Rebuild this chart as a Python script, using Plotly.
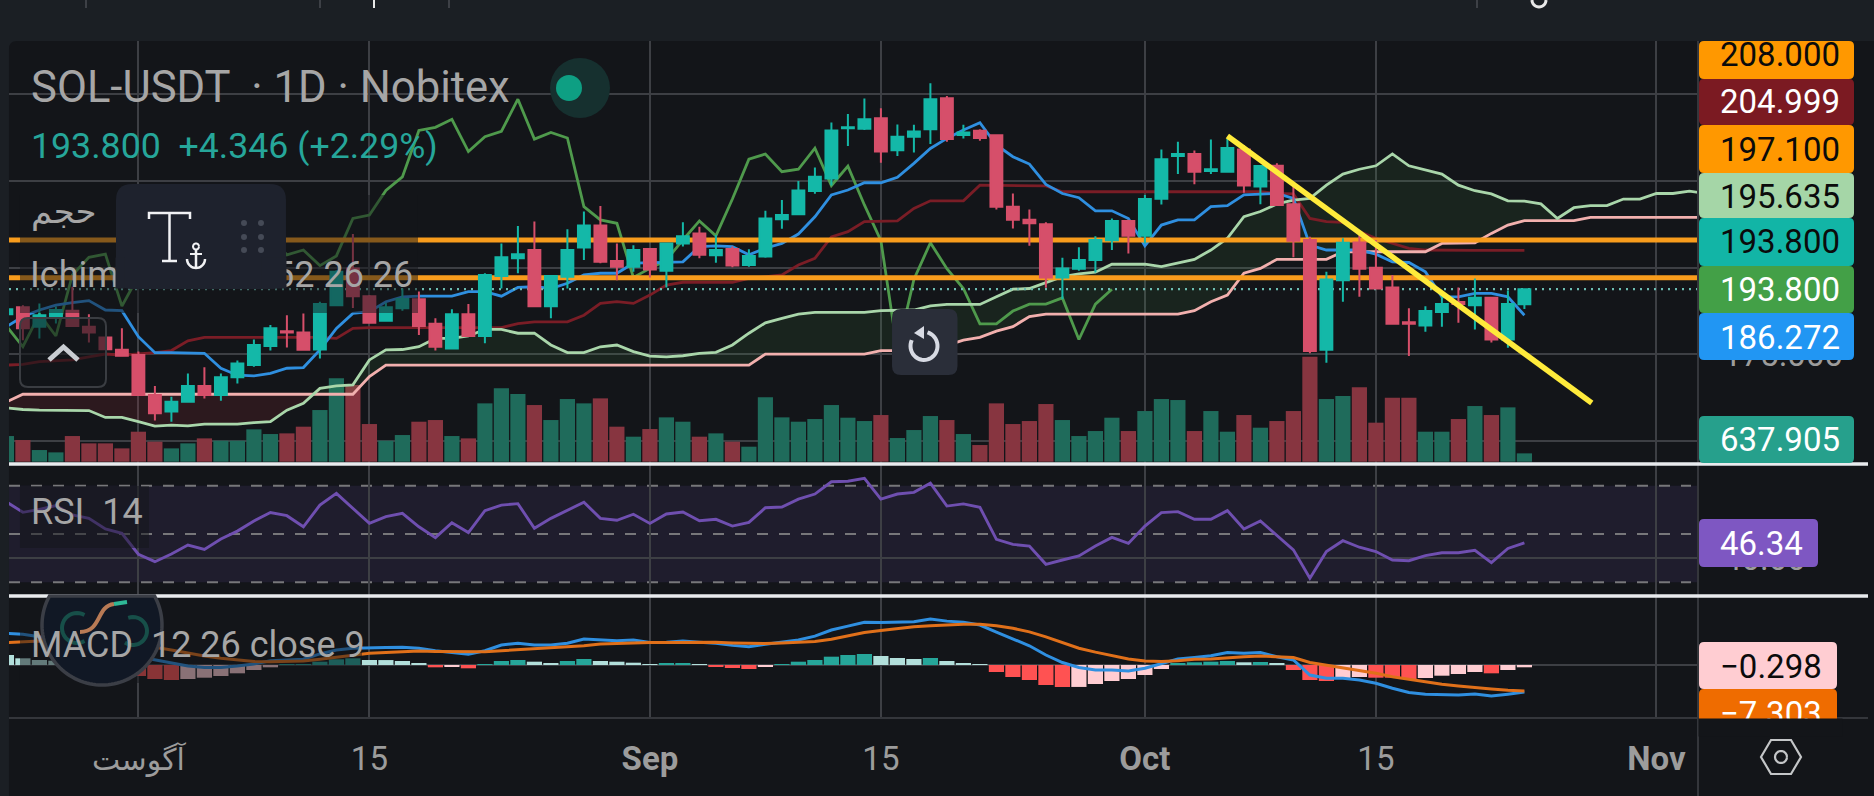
import math
import pandas as pd
import plotly.graph_objects as go

W, H = 1874, 796

# ---------- data ----------
first_day = "2025-07-24"
opens = [186.6,188.6,183.0,185.9,187.6,183.0,179.9,176.3,174.8,163.3,158.5,161.3,165.9,163.3,168.4,171.9,177.4,181.7,181.3,176.4,189.2,199.8,191.8,184.7,188.3,190.9,183.8,176.7,186.6,180.3,197.6,202.7,205.1,188.9,197.4,205.8,212.2,201.9,200.3,205.4,199.1,207.0,209.9,203.6,205.4,200.8,203.2,214.0,215.4,222.1,225.7,240.2,240.1,243.1,233.9,237.8,239.9,248.9,238.3,239.5,238.2,217.6,213.8,212.5,197.2,199.7,202.2,207.9,213.5,209.2,219.9,232.2,232.8,227.9,227.7,234.1,223.4,229.4,218.3,208.0,176.3,196.4,207.3,200.0,194.3,184.3,183.3,187.2,190.1,189.2,191.3,179.3,189.45]
closes = [188.0,182.5,186.3,187.8,183.2,181.3,176.5,174.6,163.3,158.0,161.3,165.9,163.3,168.4,172.4,177.7,182.5,181.3,176.3,189.5,198.8,191.8,184.1,188.6,191.0,183.2,177.2,186.6,180.3,197.9,203.0,203.9,188.9,197.6,205.1,212.2,201.7,200.3,205.1,199.5,207.0,209.1,203.7,205.1,200.6,203.4,214.2,215.2,222.3,226.2,239.6,240.5,242.8,233.5,237.8,239.3,248.6,237.1,239.0,237.4,217.6,213.8,212.8,197.2,199.8,202.2,208.0,213.5,209.2,219.8,231.3,232.8,227.7,228.4,234.5,223.7,229.3,218.1,207.8,176.0,196.6,207.2,199.7,194.0,183.8,183.8,187.5,189.5,189.5,191.3,179.3,189.5,193.8]
highs = [188.5,189.2,189.7,188.8,194.5,186.6,180.1,182.5,175.8,165.9,162.8,169.5,171.3,169.5,173.2,179.3,183.5,186.3,186.8,190.2,199.3,209.7,192.1,189.9,194.0,193.1,185.4,188.0,189.5,198.4,207.0,212.0,213.3,197.9,211.1,216.2,217.8,207.0,206.5,205.6,207.2,213.1,211.8,209.4,206.1,205.3,216.4,219.5,225.0,228.9,241.9,244.3,248.8,246.0,241.3,241.2,253.2,249.5,241.2,239.9,238.4,221.4,216.8,213.1,202.9,205.9,209.1,214.2,213.8,221.0,234.1,236.3,233.8,237.0,237.3,235.4,229.6,230.1,224.5,208.9,198.8,208.5,210.4,208.0,197.9,188.3,188.9,192.1,194.3,196.9,191.6,193.4,194.0]
lows = [186.0,179.1,179.6,183.9,183.0,178.4,176.4,174.3,163.1,155.9,155.6,161.1,162.3,161.6,166.6,171.4,176.1,177.0,176.3,173.8,188.9,188.4,183.9,184.4,187.6,180.6,176.1,176.4,180.1,178.2,194.0,198.4,188.8,185.4,194.0,202.2,201.3,196.4,198.8,197.2,194.3,206.1,202.7,201.4,200.1,200.3,202.9,211.2,215.2,221.3,223.7,235.1,239.7,230.3,232.2,233.2,235.7,236.3,237.3,236.6,216.8,211.3,206.3,194.2,190.9,199.1,198.6,205.1,204.1,207.0,218.2,227.0,224.1,227.0,227.4,221.6,218.3,217.9,203.0,175.3,172.6,190.2,191.6,193.8,183.6,174.5,181.5,183.0,184.1,182.2,178.4,176.9,188.1]
volume = [1964,1658,893,714,1964,1403,1403,1020,2295,1530,1020,1403,1785,1607,1607,2474,2117,2168,2678,3953,6375,5865,2882,1607,2040,3060,3188,1964,1785,4463,5610,5177,4335,3188,4794,4463,4845,2678,1913,2499,3392,3060,1913,2168,1530,1148,4922,3392,3060,3264,4335,3366,3111,3570,1811,2423,3494,3188,2117,1275,4463,2882,3111,4412,3188,1964,2346,3366,2346,3876,4794,4718,2346,3876,2295,3570,2601,3111,3876,8033,4794,5024,5687,2984,4896,4896,2295,2295,3264,4259,3570,4157,638]
tenkan = [183.0,185.9,187.8,189.2,189.9,190.5,187.8,187.6,180.1,175.5,175.5,175.5,175.3,171.0,169.0,168.8,169.5,171.0,171.2,176.3,182.5,186.8,187.3,190.2,191.6,191.8,191.8,191.8,193.1,193.1,191.8,194.3,194.5,194.0,195.5,197.9,198.4,198.4,201.3,201.4,201.4,201.7,206.1,206.3,206.1,203.7,205.6,207.0,209.7,214.7,221.0,222.4,224.5,224.5,226.1,230.1,234.4,237.3,239.7,241.8,235.4,232.0,229.9,224.0,221.4,220.2,216.4,216.4,214.2,206.3,212.3,213.8,213.8,217.6,217.9,221.0,221.2,221.4,220.0,206.5,205.1,205.1,205.1,203.9,201.7,201.5,198.8,191.6,191.6,192.6,192.6,191.6,186.3]
kijun = [171.9,172.1,172.9,173.2,173.4,174.3,175.1,174.8,175.1,175.5,176.1,178.9,179.9,179.9,179.9,179.9,179.9,179.9,179.9,179.9,179.6,182.5,182.7,182.7,182.7,182.7,182.7,182.7,182.7,182.7,182.7,183.9,184.4,184.4,184.4,186.3,189.7,190.2,189.7,192.1,195.0,195.8,195.8,195.8,195.8,196.9,197.4,197.9,200.8,202.7,208.9,210.4,213.3,213.5,213.5,217.1,219.3,219.3,219.3,223.8,223.8,223.8,223.8,223.6,221.9,221.9,221.9,221.9,221.9,221.9,221.9,221.9,221.9,221.9,221.9,221.9,221.9,221.4,221.3,214.2,213.3,213.1,210.4,208.5,207.0,205.6,205.1,205.0,205.0,205.0,205.0,205.0,205.0]
senkou_a = [159.6,159.1,158.9,158.9,158.9,158.8,156.8,156.8,155.6,154.3,154.6,154.4,154.9,154.9,154.9,155.3,155.6,158.9,160.9,165.2,165.9,166.2,173.4,176.3,176.4,177.2,179.6,179.6,180.3,182.2,182.2,181.1,181.1,177.7,175.5,175.5,177.2,177.7,175.8,174.5,174.3,174.6,175.3,175.6,177.7,181.1,184.1,185.4,186.6,187.1,187.1,187.1,187.1,187.6,187.6,187.8,189.0,189.4,189.4,189.4,191.6,193.8,194.0,195.8,197.4,198.2,198.7,201.0,201.1,201.0,200.3,201.3,202.4,205.1,208.5,214.7,216.2,218.4,219.5,220.0,223.8,227.0,228.4,229.4,232.8,229.4,228.2,227.0,223.8,222.2,221.3,219.3,219.2,218.4,214.2,217.3,217.9,217.9,219.8,219.8,221.4,221.4,222.1,221.4]
senkou_b = [161.3,163.5,163.5,163.5,163.5,163.5,163.5,163.5,163.5,163.5,163.5,163.5,163.5,163.5,163.5,163.5,163.5,163.5,163.5,163.5,163.5,163.5,168.6,171.9,171.9,171.9,171.9,171.9,171.9,171.9,171.9,171.9,171.9,171.9,171.9,171.9,171.9,171.9,171.9,171.9,171.9,171.9,171.9,171.9,171.9,171.9,175.1,175.1,175.1,175.1,175.1,175.1,175.1,176.1,176.1,176.1,176.1,177.6,179.1,179.9,181.7,183.0,185.9,186.6,186.6,186.6,186.6,186.6,186.6,186.6,186.6,186.6,187.6,190.2,192.1,198.4,199.8,202.4,202.4,202.4,202.4,204.6,204.6,204.6,204.6,204.6,204.6,207.0,207.2,207.2,209.9,212.3,213.6,213.6,213.6,213.6,214.5,214.5,214.5,214.5,214.5,214.5,214.5,214.5]
chikou = [183.2,177.2,186.6,180.3,197.9,203.0,203.9,188.9,197.6,205.1,212.2,201.7,200.3,205.1,199.5,207.0,209.1,203.7,205.1,200.6,203.4,214.2,215.2,222.3,226.2,239.6,240.5,242.8,233.5,237.8,239.3,248.6,237.1,239.0,237.4,217.6,213.8,212.8,197.2,199.8,202.2,208.0,213.5,209.2,219.8,231.3,232.8,227.7,228.4,234.5,223.7,229.3,218.1,207.8,176.0,196.6,207.2,199.7,194.0,183.8,183.8,187.5,189.5,189.5,191.3,179.3,189.5,193.8]
rsi = [63.4,59.0,60.2,61.8,57.9,56.5,52.1,50.3,41.6,38.5,41.7,45.4,43.6,47.9,51.2,55.4,58.9,57.6,53.0,62.0,66.9,60.7,54.4,57.2,58.6,53.0,48.5,54.7,50.6,59.7,62.0,62.6,52.4,56.5,60.0,63.2,56.5,55.7,58.2,54.4,58.3,59.1,55.5,56.1,53.3,54.8,60.9,61.2,64.5,66.6,71.7,71.9,73.1,64.5,66.6,67.3,71.1,61.6,62.5,61.1,47.8,45.7,45.0,37.4,39.2,40.9,45.0,48.6,46.1,53.3,58.9,59.3,56.1,56.1,59.7,52.1,55.4,49.6,43.4,31.6,42.7,47.2,44.5,42.7,39.2,38.9,41.0,42.2,42.2,43.2,38.1,44.0,46.34]
macd = [8.9,8.6,7.9,7.0,6.1,5.1,4.2,3.5,2.3,1.4,0.5,-0.3,-0.7,-0.7,-0.3,0.3,1.2,1.4,1.6,3.1,4.2,4.7,4.7,4.9,5.0,4.7,4.0,3.5,3.0,4.0,5.6,6.1,5.6,5.6,6.1,7.3,7.0,6.8,7.0,6.3,6.4,6.7,6.4,6.1,5.5,5.1,5.8,6.3,7.0,8.1,9.8,10.9,12.0,11.9,12.0,12.1,12.9,12.3,12.0,11.2,9.2,7.2,5.4,2.8,0.7,-0.7,-1.4,-1.4,-1.7,-0.9,0.5,1.7,2.1,2.6,3.5,3.3,3.5,2.3,1.4,-2.8,-3.7,-3.7,-4.2,-5.1,-6.5,-7.7,-8.2,-8.4,-8.4,-8.1,-8.7,-8.2,-7.6]
signal = [6.3,6.5,6.7,6.5,6.3,5.9,5.6,5.4,5.1,5.0,4.2,3.3,2.5,1.9,1.4,1.0,0.9,1.0,1.1,1.6,2.1,2.8,3.3,3.5,3.7,3.9,3.8,3.7,3.6,3.7,4.0,4.3,4.5,4.8,5.0,5.4,5.9,6.1,6.3,6.3,6.3,6.4,6.4,6.4,6.2,6.1,6.0,6.2,6.4,6.6,7.2,8.1,9.1,9.7,10.3,10.7,11.0,11.3,11.4,11.4,11.0,10.3,9.3,7.9,6.3,4.7,3.6,2.6,1.7,1.1,1.0,1.2,1.6,1.7,2.1,2.3,2.5,2.3,2.1,0.7,0.0,-0.9,-1.6,-2.3,-3.3,-4.0,-4.9,-5.4,-5.9,-6.4,-6.7,-7.1,-7.303]
hist = [1.3,0.87,0.65,0.56,-0.13,-0.43,-0.74,-1.08,-1.43,-1.82,-1.95,-1.82,-1.65,-1.43,-1.08,-0.65,-0.3,0.1,0.13,0.43,0.74,0.87,0.65,0.64,0.52,0.22,-0.3,-0.26,-0.43,0.13,0.52,0.65,0.43,0.22,0.52,0.78,0.52,0.43,0.3,0.12,0.14,0.15,0.12,-0.26,-0.39,-0.52,-0.22,0.13,0.43,0.65,1.08,1.3,1.43,1.17,0.91,0.78,0.91,0.52,0.26,0.13,-0.91,-1.56,-1.95,-2.6,-2.86,-2.85,-2.47,-2.08,-1.82,-1.3,-0.52,0.22,0.35,0.43,0.52,0.35,0.39,0.22,-0.65,-1.95,-2.08,-1.73,-1.56,-1.65,-1.65,-1.82,-1.69,-1.39,-1.17,-0.91,-1.08,-0.65,-0.298]
level_high = 208.0
level_low = 197.1
last_price = 193.8
trend_dates = ["2025-10-06", "2025-10-28 02:00"]
trend_prices = [238.0, 161.0]
price_ticks = [150, 175, 200, 225, 250]
price_tick_text = ["150.000", "175.000", "200.000", "225.000", "250.000"]
date_ticks = ["2025-08-01", "2025-08-15", "2025-09-01", "2025-09-15", "2025-10-01", "2025-10-15", "2025-11-01"]
date_labels = ['<span style="font-size:30px">آگوست</span>', "15", "<b>Sep</b>", "15", "<b>Oct</b>", "15", "<b>Nov</b>"]
badges = [
    ("208.000", 41, 79, 1854, "#ff9800", "#0b0b0b", 1780, 55),
    ("204.999", 79, 125, 1854, "#7b1a22", "#ffffff", 1780, 102),
    ("197.100", 125, 173, 1854, "#ff9800", "#0b0b0b", 1780, 149),
    ("195.635", 173, 218, 1854, "#a5d6a7", "#0b0b0b", 1780, 196),
    ("193.800", 218, 266, 1854, "#12b5a6", "#0b0b0b", 1780, 242),
    ("193.800", 266, 313, 1854, "#43a047", "#ffffff", 1780, 289),
    ("186.272", 313, 360, 1854, "#2196f3", "#ffffff", 1780, 337),
    ("637.905", 416, 463, 1854, "#26a08c", "#ffffff", 1780, 440),
    ("46.34", 519, 567, 1818, "#7e57c2", "#ffffff", 1761, 543),
    ("\u22120.298", 642, 689, 1837, "#ffcdd2", "#0b0b0b", 1771, 666),
    ("\u22127.303", 689, 724, 1837, "#ef6c00", "#ffffff", 1771, 713),
]

# ---------- colours ----------
OUTER = "#1b1f24"
CARD = "#131519"
GRID = "#3d3f44"
TEAL = "#14b8a8"
RED = "#d64f6a"
VOL_UP = "#1f6b5b"
VOL_DN = "#873540"
TXT = "#a6a6a6"
PALETTE = "#1e222d"
FONT = "Roboto, 'DejaVu Sans', sans-serif"

# ---------- pane geometry (pixels) and scales ----------
PX_L, PX_R = 9, 1698
MAIN_T, MAIN_B = 41, 464
RSI_T, RSI_B = 464, 596
MACD_T, MACD_B = 596, 718


def dom(top, bottom):
    return [1 - bottom / H, 1 - top / H]


def price_at(y):
    return 200 + (267.7 - y) / 3.467


def rsi_at(y):
    return 50 + (534 - y) / 2.4075


dates = pd.date_range(first_day, periods=len(senkou_a) + 1, freq="D")
d_c = dates[:len(closes)]
d_a = dates[:len(senkou_a)]
d_ch = dates[:len(chikou)]
aug1 = pd.Timestamp("2025-08-01")
x_range = [aug1 + pd.Timedelta(days=(PX_L - 138.4) / 16.5), aug1 + pd.Timedelta(days=(PX_R - 138.4) / 16.5)]
vol_colors = [VOL_UP if c >= o else VOL_DN for o, c in zip(opens, closes)]
hist_colors = []
for i, v in enumerate(hist):
    prev = hist[i - 1] if i else v
    if v >= 0:
        hist_colors.append("#26a69a" if v > prev else "#b2dfdb")
    else:
        hist_colors.append("#ffcdd2" if v > prev else "#ff5252")

fig = go.Figure()

# volume (base of the main pane)
fig.add_trace(go.Bar(x=d_c, y=volume, marker=dict(color=vol_colors, line_width=0), xaxis="x", yaxis="y"))

# Ichimoku cloud and lines, on the price axis


def line(x, y, color, width=2.8, yaxis="y4", dash=None):
    fig.add_trace(go.Scatter(x=x, y=y, mode="lines", line=dict(color=color, width=width, dash=dash), xaxis="x", yaxis=yaxis, hoverinfo="skip"))


def cloud(i0, i1, fill):
    fig.add_trace(go.Scatter(x=d_a[i0:i1], y=senkou_b[i0:i1], mode="lines", line=dict(width=0), xaxis="x", yaxis="y4", hoverinfo="skip"))
    fig.add_trace(go.Scatter(x=d_a[i0:i1], y=senkou_a[i0:i1], mode="lines", line=dict(width=0), fill="tonexty", fillcolor=fill, xaxis="x", yaxis="y4", hoverinfo="skip"))


cloud(0, 20, "rgba(180,50,60,0.16)")
cloud(19, 95, "rgba(76,175,80,0.10)")
line(d_ch, chikou, "#4f9a4c")
line(d_c, kijun, "#7a1d26")
line(d_a, senkou_b, "#f2b0ae")
line(d_a, senkou_a, "#a9d6aa")
line(d_c, tenkan, "#2f8fe0")
line(x_range, [last_price, last_price], "#6cbcb1", 2.2, dash="2px,5px")
line(x_range, [level_low, level_low], "#f89c1c", 5)
line(x_range, [level_high, level_high], "#f89c1c", 5)

# candles and trend line
fig.add_trace(go.Candlestick(
    x=d_c, open=opens, high=highs, low=lows, close=closes, xaxis="x", yaxis="y5", whiskerwidth=0,
    increasing=dict(line=dict(color=TEAL, width=2), fillcolor=TEAL),
    decreasing=dict(line=dict(color=RED, width=2), fillcolor=RED),
    hoverinfo="skip"))
line(trend_dates, trend_prices, "#ffeb3b", 5.5, yaxis="y6")

# RSI
line(d_c, rsi, "#6f4fb0", 2.9, yaxis="y2")

# MACD
fig.add_trace(go.Bar(x=d_c, y=hist, marker=dict(color=hist_colors, line_width=0), xaxis="x", yaxis="y3"))
line(d_c, macd, "#2f8fe0", 3, yaxis="y7")
line(d_c, signal, "#e0701a", 3, yaxis="y7")


# ---------- overlay helpers ----------
def P(x, y):
    return f"{x / W:.5f},{1 - y / H:.5f}"


def path(points, close=False):
    s = "M" + " L".join(P(x, y) for x, y in points)
    return s + (" Z" if close else "")


def rrect(x0, y0, x1, y1, r):
    return (f"M{P(x0 + r, y0)} L{P(x1 - r, y0)} Q{P(x1, y0)} {P(x1, y0 + r)} L{P(x1, y1 - r)} Q{P(x1, y1)} {P(x1 - r, y1)} "
            f"L{P(x0 + r, y1)} Q{P(x0, y1)} {P(x0, y1 - r)} L{P(x0, y0 + r)} Q{P(x0, y0)} {P(x0 + r, y0)} Z")


def arc(cx, cy, r, a0, a1, n=40, ry=None):
    ry = ry or r
    return [(cx + r * math.cos(math.radians(a0 + (a1 - a0) * i / n)), cy + ry * math.sin(math.radians(a0 + (a1 - a0) * i / n))) for i in range(n + 1)]


shapes = []


def fill_shape(d, color, border=None, bw=0, layer="above"):
    shapes.append(dict(type="path", path=d, xref="paper", yref="paper", layer=layer, fillcolor=color,
                       line=dict(color=border or color, width=bw)))


def stroke(points, color, width, close=False):
    shapes.append(dict(type="path", path=path(points, close), xref="paper", yref="paper", layer="above",
                       line=dict(color=color, width=width)))


def seg(x0, y0, x1, y1, color, width, layer="above"):
    shapes.append(dict(type="line", xref="paper", yref="paper", layer=layer, x0=x0 / W, x1=x1 / W, y0=1 - y0 / H, y1=1 - y1 / H,
                       line=dict(color=color, width=width)))


# card and top strip ticks
fill_shape(rrect(PX_L, 41, W + 20, H + 20, 8), CARD, layer="below")
for tx in (86, 320, 449, 1477):
    seg(tx, 0, tx, 8, "#4a4d52", 1.5, layer="below")
seg(374, 0, 374, 8, "#e8e8e8", 2, layer="below")
stroke(arc(1539, 0, 7, 0, 180, 16), "#e8e8e8", 3)

# RSI band and levels, axis rules
shapes.append(dict(type="rect", xref="paper", yref="y2", layer="below", x0=PX_L / W, x1=PX_R / W, y0=30, y1=70,
                   fillcolor="rgba(126,87,194,0.12)", line_width=0))
for lv in (30, 50, 70):
    shapes.append(dict(type="line", xref="paper", yref="y2", layer="below", x0=PX_L / W, x1=1691 / W, y0=lv, y1=lv,
                       line=dict(color="#77777a", width=2, dash="11px,11px")))
seg(PX_R, 41, PX_R, 796, "#34363b", 2)
seg(PX_L, 718, 1868, 718, "#34363b", 2)

# legend backings that dim what is behind the text
fill_shape(f"M{P(20, 195)} L{P(418, 195)} L{P(418, 313)} L{P(20, 313)} Z", "rgba(19,21,25,0.5)")
fill_shape(f"M{P(20, 486)} L{P(149, 486)} L{P(149, 548)} L{P(20, 548)} Z", "rgba(19,21,25,0.5)")
fill_shape(f"M{P(20, 627)} L{P(362, 627)} L{P(362, 683)} L{P(20, 683)} Z", "rgba(19,21,25,0.5)")

# separators between panes
seg(PX_L, 464, 1868, 464, "#e9ebee", 3.5)
seg(PX_L, 596, 1868, 596, "#e9ebee", 3.5)

# live dot
shapes.append(dict(type="circle", xref="paper", yref="paper", layer="above", x0=550 / W, x1=610 / W, y0=1 - 118 / H, y1=1 - 58 / H,
                   fillcolor="#16302f", line_width=0))
shapes.append(dict(type="circle", xref="paper", yref="paper", layer="above", x0=556 / W, x1=582 / W, y0=1 - 101 / H, y1=1 - 75 / H,
                   fillcolor="#0e9f83", line_width=0))

# collapse button
fill_shape(rrect(20, 318, 106, 387, 8), "rgba(19,21,25,0.6)", "#3a3d42", 2)
stroke([(49, 360), (63.5, 347), (78, 360)], "#c9cdd2", 5)

# text tool palette
fill_shape(rrect(116, 184, 286, 289, 16), PALETTE)
stroke([(149, 219), (149, 213), (190, 213), (190, 219)], "#f1f2f4", 2.5)
stroke([(169.5, 213), (169.5, 261)], "#f1f2f4", 2.5)
stroke([(162, 261), (177, 261)], "#f1f2f4", 2.5)
stroke(arc(196, 246.5, 3, 0, 360, 14), "#f1f2f4", 2)
stroke([(196, 250), (196, 268)], "#f1f2f4", 2.5)
stroke([(190, 254), (202, 254)], "#f1f2f4", 2)
stroke(arc(196, 259, 9, 0, 180, 18), "#f1f2f4", 2.5)
for dx in (244, 261):
    for dy in (223, 237, 250):
        shapes.append(dict(type="circle", xref="paper", yref="paper", layer="above", x0=(dx - 3) / W, x1=(dx + 3) / W,
                           y0=1 - (dy + 3) / H, y1=1 - (dy - 3) / H, fillcolor="#454a56", line_width=0))

# undo button
fill_shape(rrect(892, 309, 957.5, 375, 9), "#2a2e39")
stroke(arc(924, 346, 13.5, -75, 205, 32, ry=14), "#d7dae3", 4)
fill_shape(path([(924, 326), (924, 339), (914, 333)], True), "#d7dae3")

# round logo in the MACD pane, only below the separator
lower = arc(102, 625, 60, -29, 209, 80)
fill_shape(path(lower, True), "#111825", "#3b3e46", 3.5)
stroke(arc(77, 628, 15, 60, 300, 24), "#174f49", 4)
stroke(arc(133, 631, 14, -110, 125, 24), "#174f49", 4)
shapes.append(dict(type="path", xref="paper", yref="paper", layer="above",
                   path=f"M{P(80, 632)} C{P(102, 632)} {P(96, 606)} {P(114, 604)}", line=dict(color="#b87a55", width=4)))
stroke([(114, 604), (127, 602)], "#2fb896", 4)

# gear icon (hexagon)
stroke([(1761, 757), (1771, 740), (1791, 740), (1801, 757), (1791, 774), (1771, 774)], "#c4c6c8", 2.2, True)
stroke(arc(1781, 757, 6, 0, 360, 18), "#c4c6c8", 2.2)

# price badges
for _t, y0, y1, x1, col, _tc, _x, _y in badges:
    fill_shape(rrect(PX_R + 1, y0, x1, y1, 5), col)

# ---------- texts ----------
ann = []


def label(text, x, y, size, color, anchor="left"):
    ann.append(dict(text=text, x=x / W, y=1 - y / H, xref="paper", yref="paper", xanchor=anchor, yanchor="middle", showarrow=False,
                    font=dict(family=FONT, size=size, color=color)))


def cover(x0, y0, x1, y1, color):
    ann.append(dict(text=" ", x=(x0 + x1) / 2 / W, y=1 - (y0 + y1) / 2 / H, xref="paper", yref="paper", xanchor="center", yanchor="middle",
                    showarrow=False, width=x1 - x0, height=y1 - y0, bgcolor=color, font=dict(size=4), borderpad=0))


label("SOL-USDT  \u00b7 1D \u00b7 Nobitex", 29, 87, 43.6, TXT)
label("193.800  +4.346 (+2.29%)", 29, 146, 35.7, "#26a69a")
label("حجم", 29, 211, 34, TXT)
label("Ichim", 28, 275, 36, TXT)
label("52 26 26", 415, 275, 36, TXT, "right")
label("RSI  14", 29, 512, 36, TXT)
label("MACD  12 26 close 9", 29, 645, 36, TXT)
# the palette sits in front of the indicator legend
cover(116, 258, 124, 288, PALETTE)
cover(262, 258, 286, 288, PALETTE)
for t, _y0, _y1, _x1, _col, tc, bx, by in badges:
    label(t, bx, by, 33, tc, "center")
# the pane edge clips the lower badge
cover(1699, 719.5, 1842, 736, CARD)

# ---------- axes ----------
hidden = dict(visible=False, showgrid=False, zeroline=False, anchor="x")
main_range = [price_at(MAIN_B), price_at(MAIN_T)]
tick_font = dict(family=FONT, size=33, color="#9c9c9c")
fig.update_layout(
    width=W, height=H,
    margin=dict(l=0, r=0, t=0, b=0),
    paper_bgcolor=OUTER, plot_bgcolor="rgba(0,0,0,0)",
    showlegend=False, bargap=0.08, boxgap=0.28, boxgroupgap=0,
    shapes=shapes, annotations=ann,
    font=dict(family=FONT),
    xaxis=dict(domain=[PX_L / W, PX_R / W], type="date", range=x_range, anchor="y3", rangeslider=dict(visible=False),
               tickmode="array", tickvals=date_ticks, ticktext=date_labels, ticks="", ticklabelstandoff=18,
               tickfont=tick_font, showgrid=True, gridcolor=GRID, gridwidth=2, zeroline=False, showline=False),
    yaxis=dict(domain=dom(MAIN_T, MAIN_B), range=[-176, 32183], **hidden),
    yaxis4=dict(domain=dom(MAIN_T, MAIN_B), range=main_range, overlaying="y", side="right", anchor="x",
                tickmode="array", tickvals=price_ticks, ticktext=price_tick_text, ticks="", ticklabelstandoff=24,
                tickfont=tick_font, showgrid=True, gridcolor=GRID, gridwidth=2, zeroline=False),
    yaxis5=dict(domain=dom(MAIN_T, MAIN_B), range=main_range, overlaying="y", **hidden),
    yaxis6=dict(domain=dom(MAIN_T, MAIN_B), range=main_range, overlaying="y", **hidden),
    yaxis2=dict(domain=dom(RSI_T, RSI_B), range=[rsi_at(RSI_B), rsi_at(RSI_T)], side="right", anchor="x",
                tickmode="array", tickvals=[40], ticktext=["40.00"], ticks="", ticklabelstandoff=24,
                tickfont=tick_font, showgrid=True, gridcolor=GRID, gridwidth=2, zeroline=False),
    yaxis3=dict(domain=dom(MACD_T, MACD_B), range=[(665 - MACD_B) / 7.7, (665 - MACD_T) / 7.7], side="right", anchor="x",
                tickmode="array", tickvals=[0], ticktext=[""], ticks="", showgrid=True, gridcolor=GRID, gridwidth=2, zeroline=False),
    yaxis7=dict(domain=dom(MACD_T, MACD_B), range=[(665 - MACD_B) / 3.567, (665 - MACD_T) / 3.567], overlaying="y3", **hidden),
)

fig.write_html("out.html", config=dict(displayModeBar=False), post_script="document.body.style.margin='0';document.body.style.overflow='hidden';")
